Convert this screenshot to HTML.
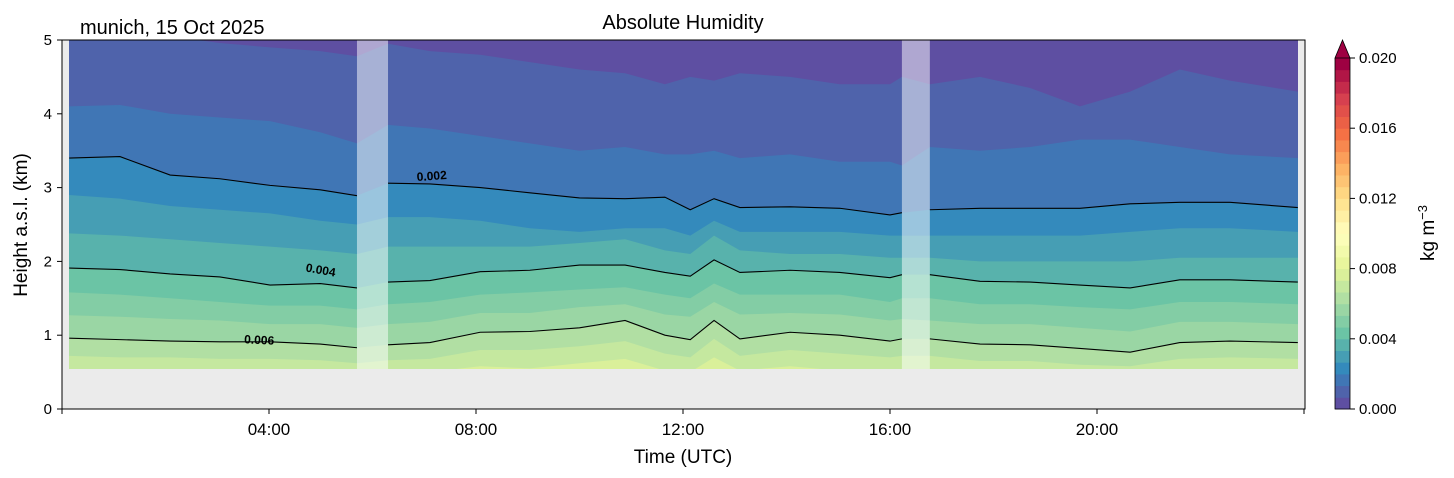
<!DOCTYPE html>
<html><head><meta charset="utf-8"><style>
body{margin:0;background:#fff;}
svg{display:block;font-family:"Liberation Sans","DejaVu Sans",sans-serif;}
</style></head><body>
<svg id="chart" width="1454" height="478" viewBox="0 0 1454 478">
<defs><clipPath id="dataclip"><rect x="69" y="40" width="1229" height="329"/></clipPath></defs>
<rect x="62" y="40" width="1243" height="369" fill="#ebebeb"/>
<g id="fills" clip-path="url(#dataclip)"></g>
<g id="gaps"></g>
<g id="lines" clip-path="url(#dataclip)"></g>
<g id="labels"></g>
<rect x="62" y="40" width="1243" height="369" fill="none" stroke="#000" stroke-width="1"/>
<g id="axes"></g>
<g id="cbar"></g>
<text x="683" y="29" font-size="20" text-anchor="middle">Absolute Humidity</text>
<text x="80" y="34" font-size="20">munich, 15 Oct 2025</text>
<text x="683" y="463" font-size="19" text-anchor="middle">Time (UTC)</text>
<text transform="translate(27,225) rotate(-90)" font-size="19" text-anchor="middle">Height a.s.l. (km)</text>
<text transform="translate(1434,233) rotate(-90)" font-size="19" text-anchor="middle">kg m<tspan dy="-7" font-size="13">−3</tspan></text>
</svg>
<script>
const times=[0.14,1.12,2.09,3.05,4.02,4.99,5.70,6.30,7.11,8.08,9.04,10.0,10.88,11.65,12.14,12.6,13.1,14.07,15.03,16.0,16.23,16.77,17.74,18.71,19.67,20.64,21.6,22.57,23.88];
const L1=[5.1,5.1,5.05,4.96,4.9,4.85,4.78,4.95,4.85,4.8,4.7,4.6,4.55,4.4,4.5,4.45,4.55,4.5,4.4,4.4,4.5,4.4,4.5,4.35,4.1,4.3,4.6,4.45,4.3];
const L2=[4.1,4.12,4.0,3.95,3.9,3.75,3.6,3.85,3.8,3.7,3.6,3.5,3.55,3.45,3.45,3.5,3.4,3.45,3.35,3.35,3.3,3.55,3.5,3.55,3.65,3.65,3.55,3.45,3.4];
const L3=[3.40,3.42,3.17,3.12,3.03,2.97,2.89,3.06,3.05,3.0,2.93,2.86,2.85,2.87,2.7,2.85,2.73,2.74,2.72,2.63,2.66,2.7,2.72,2.72,2.72,2.78,2.8,2.8,2.73];
const L4=[2.9,2.85,2.75,2.7,2.65,2.55,2.5,2.6,2.6,2.55,2.45,2.4,2.45,2.45,2.35,2.55,2.4,2.4,2.4,2.35,2.35,2.35,2.35,2.35,2.35,2.4,2.45,2.45,2.4];
const L5=[2.38,2.35,2.3,2.25,2.2,2.15,2.1,2.2,2.2,2.2,2.2,2.25,2.3,2.15,2.1,2.35,2.15,2.1,2.1,2.05,2.05,2.05,2.0,2.0,2.0,2.0,2.05,2.05,2.05];
const L6=[1.91,1.89,1.83,1.79,1.68,1.7,1.64,1.72,1.74,1.86,1.88,1.95,1.95,1.85,1.8,2.02,1.85,1.88,1.85,1.78,1.82,1.82,1.73,1.72,1.68,1.64,1.75,1.75,1.72];
const L7=[1.58,1.55,1.5,1.45,1.4,1.4,1.35,1.42,1.45,1.55,1.58,1.62,1.65,1.55,1.5,1.7,1.55,1.55,1.55,1.45,1.5,1.5,1.42,1.42,1.38,1.35,1.45,1.45,1.42];
const L8=[1.27,1.25,1.22,1.2,1.15,1.15,1.1,1.15,1.18,1.3,1.3,1.38,1.42,1.28,1.25,1.45,1.28,1.3,1.28,1.2,1.22,1.2,1.15,1.15,1.1,1.05,1.18,1.18,1.15];
const L9=[0.96,0.94,0.92,0.91,0.91,0.88,0.83,0.87,0.9,1.04,1.05,1.1,1.2,1.0,0.94,1.2,0.95,1.04,1.0,0.92,0.95,0.95,0.88,0.87,0.82,0.77,0.9,0.92,0.9];
const L10=[0.72,0.7,0.7,0.68,0.68,0.66,0.62,0.66,0.68,0.8,0.8,0.85,0.92,0.75,0.7,0.95,0.72,0.8,0.75,0.7,0.72,0.72,0.65,0.65,0.6,0.58,0.68,0.7,0.68];
const L11=[0.5,0.5,0.5,0.5,0.5,0.5,0.5,0.5,0.5,0.58,0.55,0.62,0.68,0.52,0.5,0.7,0.52,0.58,0.52,0.5,0.5,0.5,0.5,0.5,0.5,0.5,0.5,0.5,0.5];
const levelHeights=[L1,L2,L3,L4,L5,L6,L7,L8,L9,L10,L11];
const lineLevels=[2,5,8];
const lineNames=['0.002','0.004','0.006'];
const gapStarts=[5.70,16.23];
const gapEnds=[6.30,16.77];
const cbTicks=[0,0.004,0.008,0.012,0.016,0.020];
const xTickHours=[4,8,12,16,20];
const xTickLabels=['04:00','08:00','12:00','16:00','20:00'];
const yTicks=[0,1,2,3,4,5];

const NS='http://www.w3.org/2000/svg';
const xs=h=>62+h*51.75;
const ys=k=>409-k*73.8;
const stops=[[94,79,162],[50,136,189],[102,194,165],[171,221,164],[230,245,152],[255,255,191],[254,224,139],[253,174,97],[244,109,67],[213,62,79],[158,1,66]];
function cmap(f){f=Math.max(0,Math.min(1,f));const p=f*10,i=Math.min(9,Math.floor(p)),t=p-i;const a=stops[i],b=stops[i+1];
 const c=a.map((v,j)=>Math.round(v+(b[j]-v)*t));return `rgb(${c.join(',')})`;}
function bandColor(k){return cmap(k/29);}
function el(tag,attrs,parent){const e=document.createElementNS(NS,tag);for(const k in attrs)e.setAttribute(k,attrs[k]);parent.appendChild(e);return e;}

const fills=document.getElementById('fills');
let r=el('rect',{x:62,y:40,width:1243,height:369,fill:bandColor(0)},fills);


levelHeights.forEach((L,k)=>{
  let d='M'+xs(times[0]-0.2)+','+ys(0.53);
  d+=' L'+xs(times[0]-0.2)+','+ys(L[0]);
  times.forEach((t,i)=>{d+=' L'+xs(t)+','+ys(L[i]);});
  d+=' L'+xs(times[times.length-1]+0.2)+','+ys(L[L.length-1])+' L'+xs(times[times.length-1]+0.2)+','+ys(0.53)+'Z';
  const p=el('path',{d:d,fill:bandColor(k+1)},fills);
  
  
});
const gaps=document.getElementById('gaps');
gapStarts.forEach((g,i)=>{
  const gr=el('rect',{x:xs(g),y:40,width:xs(gapEnds[i])-xs(g),height:329,fill:'#fff','fill-opacity':0.5},gaps);
  
  
});
const lines=document.getElementById('lines');
lineLevels.forEach((li,n)=>{
  const L=levelHeights[li];
  let segs=[[]];
  times.forEach((t,i)=>{
    if(i>0&&gapStarts.some(g=>times[i-1]<=g&&t>g)) segs.push([]);
    segs[segs.length-1].push([xs(t),ys(L[i])]);
  });
  segs.forEach(s=>{
    const pl=el('polyline',{points:s.map(p=>p.join(',')).join(' '),fill:'none',stroke:'#000','stroke-width':1.1},lines);
    
    
  });
});
const labs=document.getElementById('labels');
[[432,180,-4,'0.002'],[320,274,10,'0.004'],[259,344,3,'0.006']].forEach(a=>{
  const t=el('text',{x:a[0],y:a[1],'font-size':12,'font-weight':'bold','text-anchor':'middle',transform:`rotate(${a[2]},${a[0]},${a[1]})`},labs);
  t.textContent=a[3];
  
  
});
const axes=document.getElementById('axes');
yTicks.forEach(v=>{
  el('line',{x1:57,x2:62,y1:ys(v),y2:ys(v),stroke:'#000'},axes);
  const t=el('text',{x:52,y:ys(v)+5,'font-size':15,'text-anchor':'end'},axes);
  t.textContent=v;
  
  
});
xTickHours.forEach((h,i)=>{
  el('line',{x1:xs(h),x2:xs(h),y1:409,y2:414,stroke:'#000'},axes);
  const t=el('text',{x:xs(h),y:435,'font-size':17,'text-anchor':'middle'},axes);
  t.textContent=xTickLabels[i];
  
  
});
[0,24].forEach(h=>{el('line',{x1:xs(h),x2:xs(h),y1:409,y2:414,stroke:'#000'},axes);});
const cb=document.getElementById('cbar');
const cy=v=>409-v/0.02*351;
for(let k=0;k<30;k++){
  const v0=k*0.02/30,v1=(k+1)*0.02/30;
  const b=el('rect',{x:1335,y:cy(v1),width:15,height:cy(v0)-cy(v1)+0.5,fill:bandColor(k)},cb);
  
  
}
el('polygon',{points:'1335,58 1350,58 1342.5,40',fill:bandColor(30),stroke:'#000','stroke-width':0.8},cb);
el('polyline',{points:'1335,58 1335,409 1350,409 1350,58',fill:'none',stroke:'#000','stroke-width':0.8},cb);
cbTicks.forEach(v=>{
  el('line',{x1:1350,x2:1355,y1:cy(v),y2:cy(v),stroke:'#000'},cb);
  const t=el('text',{x:1359,y:cy(v)+5,'font-size':15},cb);
  t.textContent=v.toFixed(3);
  
  
});
</script>
</body></html>
